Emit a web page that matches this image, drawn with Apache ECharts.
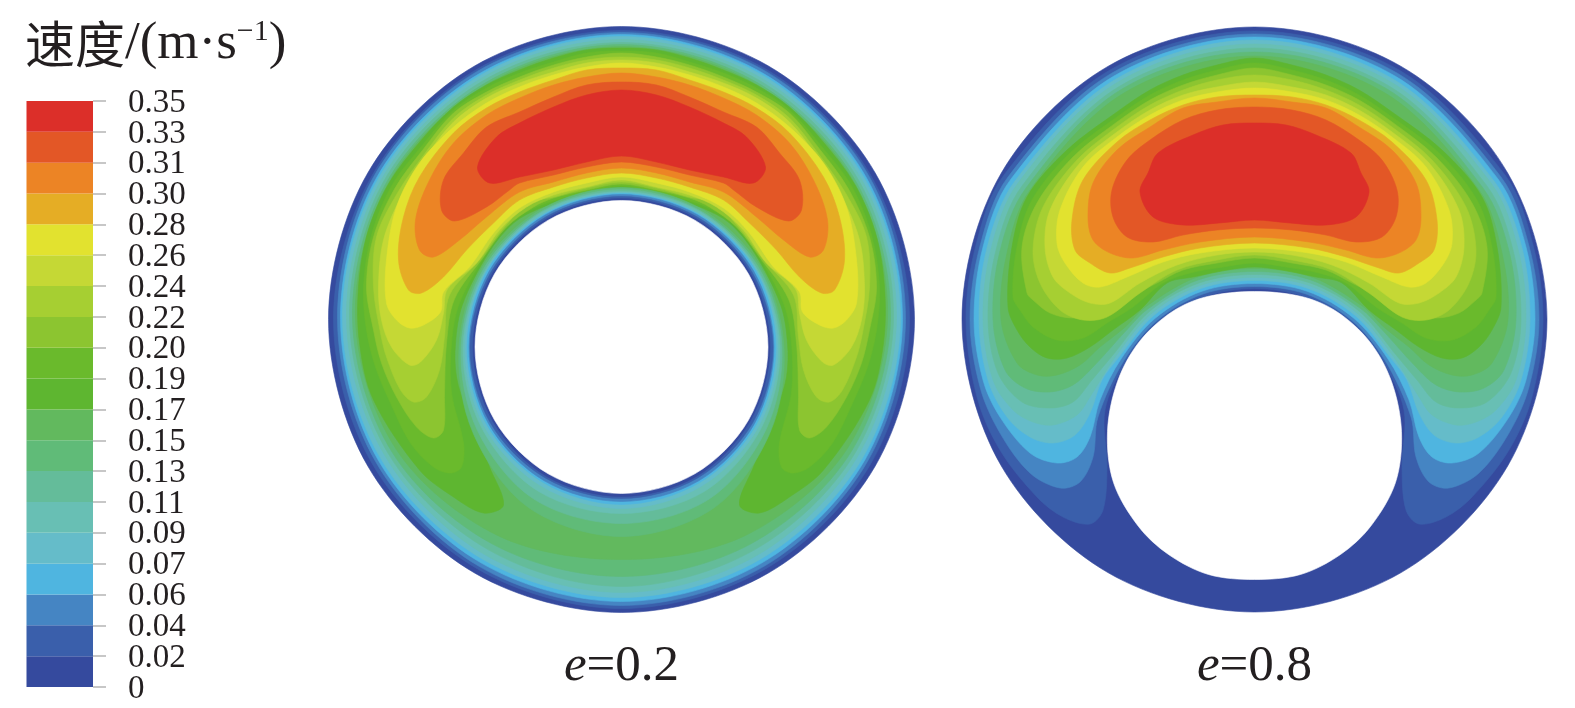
<!DOCTYPE html>
<html><head><meta charset="utf-8">
<style>html,body{margin:0;padding:0;background:#fff}#c{width:1575px;height:708px;filter:blur(.5px)}</style>
<script src="https://cdn.jsdelivr.net/npm/echarts@6/dist/echarts.min.js"></script>
</head><body><div id="c"></div>
<script>
// legend
const tickLabels = ['0','0.02','0.04','0.06','0.07','0.09','0.11','0.13','0.15','0.17','0.19','0.20','0.22','0.24','0.26','0.28','0.30','0.31','0.33','0.35'];
const bandColors = ['#354a9e','#3a5fab','#4585c3','#4fb5e0','#65bcc9','#68bfb4','#64bc9a','#60bb78','#62b95e','#5eb630','#6aba2c','#8cc530','#a6cf32','#c5d835','#e2e22f','#e5ad25','#ec8425','#e35726','#dc2f29'];
const panelNames = ['0.2','0.8'];

// e=0.2: depth of each contour from the walls along rays (deg from top), rows = 0.02 ... 0.15
const rayAngles = [0,30,60,90,120,150,180];
const leftOuterRadius = 293, leftHoleRadius = 146.5, leftHoleCentre = -27.5;
const leftOuterDepth = [
 [4,4,5,5,5,5,4],[6,6,7,9,9,8,7],[8,9,10,12,12,12,11],[10,11,12,14,15,16,15],
 [13,14,15,18,20,21,20],[16,17,18,21,24,27,26],[18,20,21,24,28,34,36],[20,22,23,27,33,44,53]];
const leftInnerDepth = [
 [2,2,2,2,2,3,3],[4,4,4,5,5,5,5],[6,6,6,6,7,8,8],[7,7,8,8,9,10,11],
 [8,8,9,10,12,14,15],[9,10,10,12,15,20,20],[11,11,12,14,20,29,30],[13,13,14,16,25,39,43]];
// e=0.2: contours closed inside the gap, half outlines, rows = 0.17 ... 0.33
const leftLobes = [
 [[0,269],[-33,267],[-66,259],[-100,247],[-133,232],[-166,210],[-198,177],[-231,133],[-252,84],[-261,30],[-260,-26],[-246,-83],[-200,-153],[-166,-180],[-136,-196],[-116,-188],[-130,-150],[-153,-93],[-163,-60],[-164,-26],[-157,12.5],[-131,64],[-106,94],[-79,109],[-59,115],[-33,124],[0,129]],
 [[0,266],[-33,264],[-66,255],[-100,244],[-133,229],[-166,207],[-197,172],[-228,131],[-248,82],[-256,30],[-253,-13],[-244,-50],[-229,-86],[-209,-126],[-186,-150],[-169,-156],[-158,-150],[-156,-126],[-168,-76],[-168,-26],[-160,14],[-133,64],[-110,94],[-83,110],[-63,117],[-33,125],[0,131]],
 [[0,264],[-33,260],[-66,252],[-100,240],[-133,225],[-166,204],[-196,168],[-225,128],[-246,80],[-253,30],[-246,-13],[-238,-46],[-223,-80],[-203,-110],[-186,-121],[-176,-113],[-175,-76],[-173,-26],[-165,18],[-136,60],[-113,90],[-86,110],[-66,119],[-33,127],[0,133]],
 [[0,260],[-33,257],[-66,249],[-100,237],[-133,222],[-166,199],[-195,163],[-222,124],[-243,80],[-246,30],[-239,-16],[-233,-40],[-219,-73],[-206,-85],[-193,-80],[-180,-53],[-175,-20],[-170,22],[-140,57],[-116,89],[-90,114],[-66,120],[-33,129],[0,135]],
 [[0,257],[-33,254],[-66,245],[-100,234],[-133,219],[-166,195],[-195,158],[-218,121],[-236,77],[-241,30],[-238,-3],[-228,-30],[-210,-48],[-199,-45],[-183,-23],[-176,4],[-172,28],[-143,54],[-120,87],[-93,110],[-66,122],[-33,130],[0,137]],
 [[0,254],[-33,250],[-66,242],[-100,230],[-133,214],[-166,190],[-200,154],[-223,110],[-233,57],[-233,14],[-223,-3],[-210,-11],[-196,-8],[-179,5],[-176,25],[-150,50],[-126,84],[-100,109],[-66,125],[-33,134],[0,140]],
 [[0,249],[-33,247],[-66,237],[-100,225],[-133,209],[-166,184],[-200,140],[-216,100],[-221,57],[-211,27],[-198,24],[-176,40],[-153,67],[-126,94],[-100,117],[-66,130],[-33,139],[0,144]],
 [[0,244],[-33,240],[-66,232],[-100,219],[-133,202],[-166,174],[-190,137],[-204,97],[-200,67],[-186,60],[-160,77],[-133,100],[-100,125],[-66,135],[-33,144],[0,149]],
 [[0,235],[-33,232],[-66,220],[-100,205],[-133,190],[-156,164],[-176,137],[-178,107],[-165,96],[-133,110],[-110,127],[-100,134],[-66,142],[-33,150],[0,155]],
 [[0,227],[-33,222],[-66,210],[-100,194],[-123,180],[-142,150],[-130,134],[-100,140],[-66,147],[-33,155],[0,161]]];

// e=0.8: every contour is closed inside the gap, half outlines, rows = 0.02 ... 0.33
const rightOuterRadius = 292.5;
const rightLobes = [
 [[0,286],[-139,247],[-245,142],[-273,72],[-283,-2.5],[-272,-80],[-249,-133],[-212,-180],[-186,-200],[-159,-207],[-146,-193],[-142,-150],[-144,-93],[-122.7,-45],[-89.7,-5.6],[-45,20],[0,28.5]],
 [[0,283],[-137,244],[-241,140],[-269,71],[-279,-2.5],[-269,-70],[-249,-116],[-219,-156],[-189,-171],[-169,-165],[-156,-140],[-151,-100],[-125,-43.5],[-91.6,-3.3],[-46,23],[0,30.5]],
 [[0,280],[-135,241],[-238,138],[-266,70],[-275,-2.5],[-266,-63],[-249,-100],[-219,-136],[-192,-146],[-172,-140],[-159,-120],[-149,-83],[-128,-42],[-93.5,-1],[-47,25.8],[0,33.5]],
 [[0,277],[-133,238],[-234,136],[-262,69],[-270,-2.5],[-261,-63],[-242,-100],[-219,-120],[-196,-126],[-174,-118],[-159,-96],[-147,-63],[-130.5,-40.5],[-95.5,1.3],[-48,28.6],[0,36.5]],
 [[0,273],[-131,235],[-231,134],[-258,68],[-266,-2.5],[-256,-63],[-236,-93],[-216,-105],[-196,-108],[-172,-98],[-159,-80],[-133,-39],[-97.4,3.6],[-49,31.5],[0,39.5]],
 [[0,269],[-129,231],[-227,131],[-253,67],[-261,-2.5],[-251,-56],[-227,-85],[-199,-91],[-176,-85],[-157,-63],[-135.7,-37.5],[-99,6],[-50,34],[0,42.5]],
 [[0,265],[-127,228],[-223,129],[-249,66],[-256,-2.5],[-244,-53],[-224,-71],[-199,-75],[-176,-68],[-156,-50],[-121.7,-12.3],[-101,8.2],[-51,37],[0,45.5]],
 [[0,261],[-125,224],[-219,127],[-242,64],[-248,-2.5],[-232,-46],[-212,-58],[-192,-58],[-169,-48],[-149,-30],[-124,-10.3],[-103,10.5],[-52,39.8],[0,48.5]],
 [[0,259],[-32,252],[-66,242],[-99,227],[-132,205],[-182,167],[-222,120],[-237,70],[-241,10],[-232,-13],[-219,-30],[-202,-41],[-182,-41],[-159,-30],[-136,-13],[-109,7],[-82,34],[-56,40],[-22,47],[0,50]],
 [[0,254],[-32,247],[-66,237],[-99,222],[-132,200],[-179,164],[-217,117],[-232,70],[-236,20],[-229,7],[-216,-10],[-192,-23],[-166,-21],[-142,-6],[-116,10],[-86,34],[-59,44],[-26,50],[0,54]],
 [[0,249],[-32,242],[-66,232],[-99,217],[-132,195],[-176,160],[-212,114],[-227,70],[-222,24],[-216,17],[-199,4],[-176,-1],[-152,4],[-126,17],[-92,34],[-66,47],[-32,54],[0,59]],
 [[0,242],[-32,237],[-66,227],[-99,212],[-132,190],[-172,157],[-206,110],[-216,67],[-209,34],[-189,7],[-166,-3],[-142,0],[-109,24],[-72,47],[-32,57],[0,62]],
 [[0,235],[-32,230],[-66,222],[-99,207],[-132,185],[-169,154],[-199,107],[-204,70],[-196,40],[-179,24],[-159,14],[-139,14],[-109,34],[-72,52],[-32,62],[0,65]],
 [[0,229],[-32,225],[-66,217],[-99,202],[-132,180],[-166,150],[-189,107],[-192,74],[-184,54],[-166,34],[-149,30],[-122,40],[-86,55],[-49,64],[0,69]],
 [[0,222],[-32,220],[-66,212],[-99,197],[-132,175],[-166,137],[-177,97],[-174,67],[-159,54],[-139,44],[-119,49],[-86,60],[-49,69],[0,74]],
 [[0,219],[-32,215],[-66,209],[-99,190],[-132,167],[-156,134],[-161,100],[-156,77],[-139,64],[-116,59],[-86,67],[-49,75],[0,80]],
 [[0,210],[-32,207],[-66,197],[-99,177],[-122,157],[-137,127],[-136,100],[-122,80],[-96,75],[-66,82],[-32,87],[0,89]],
 [[0,194],[-26,192],[-56,182],[-91,164],[-101,144],[-109,125],[-96,100],[-66,92],[-30,94],[0,97]]];
const rightHole = [[0,28],[-47,23],[-82,8],[-115,-22],[-137,-62],[-147,-112],[-141,-163],[-116,-207],[-86,-235],[-46,-255],[0,-260]];
// the half outlines were read against a reference mark slightly off each circle's own centre
const leftReadOffset = [-2,2.5], rightReadOffset = [-5.5,2.5];

function mirror(half){
  const back = half.filter(p=>p[0]!==0).reverse().map(p=>[-p[0],p[1]]);
  return half.concat(back);
}
function lobe(half,off){
  return mirror(half.map(p=>[p[0]===0?0:p[0]+off[0],p[1]+off[1]]));
}
function ring(radius, cy, depth, sign){
  return mirror(rayAngles.map((a,i)=>{
    const r = radius + sign*depth[i], t = a*Math.PI/180;
    const s = (a===0||a===180)?0:Math.sin(t);
    return [-r*s, cy + r*Math.cos(t)];
  }));
}
const zero = rayAngles.map(()=>0);
const leftShapes = [{pts:ring(leftOuterRadius,0,zero,-1),c:bandColors[0]}];
leftOuterDepth.forEach((d,i)=>leftShapes.push({pts:ring(leftOuterRadius,0,d,-1),c:bandColors[i+1]}));
leftLobes.forEach((h,i)=>leftShapes.push({pts:lobe(h,leftReadOffset),c:bandColors[i+9]}));
for(let i=leftInnerDepth.length-1;i>=0;i--) leftShapes.push({pts:ring(leftHoleRadius,leftHoleCentre,leftInnerDepth[i],1),c:bandColors[i]});
leftShapes.push({pts:ring(leftHoleRadius,leftHoleCentre,zero,1),c:'#ffffff'});

const rightShapes = [{pts:ring(rightOuterRadius,0,zero,-1),c:bandColors[0]}];
rightLobes.forEach((h,i)=>rightShapes.push({pts:lobe(h,rightReadOffset),c:bandColors[i+1]}));
rightShapes.push({pts:mirror(rightHole),c:'#ffffff'});

function contourSeries(shapes, axisIndex){
  return {
    type:'custom', xAxisIndex:axisIndex, yAxisIndex:axisIndex, clip:false, silent:true,
    data:shapes.map((s,i)=>[i]), encode:{x:0,y:0},
    renderItem:(params,api)=>{
      const s = shapes[params.dataIndex];
      return {type:'polygon',shape:{points:s.pts.map(p=>api.coord(p)),smooth:0.33},
        style:{fill:s.c,stroke:s.c,lineWidth:0.6}};
    }
  };
}
const serif = '"Liberation Serif","Times New Roman",serif';
function panelAxis(gridIndex,name){
  return {type:'value',gridIndex,min:-300,max:300,show:true,splitLine:{show:false},axisLine:{show:false},axisTick:{show:false},axisLabel:{show:false},
    name:'{i|e}{n|='+name+'}',nameLocation:'middle',nameGap:47,
    nameTextStyle:{verticalAlign:'middle',rich:{i:{fontFamily:serif,fontStyle:'italic',fontSize:51,color:'#231f20'},n:{fontFamily:serif,fontSize:51,color:'#231f20'}}}};
}
function panelY(gridIndex){
  return {type:'value',gridIndex,min:-300,max:300,splitLine:{show:false},axisLine:{show:false},axisTick:{show:false},axisLabel:{show:false}};
}
const legendRich = {a:{fontFamily:serif,fontSize:33,color:'#231f20',lineHeight:24,height:24,padding:[4,0,0,0]}};
const legendTick = {show:true,length:13,lineStyle:{color:'#b5b5b5',width:1.5}};
const lastTick = tickLabels.length-1;
const legendSeries = bandColors.map(c=>({type:'bar',stack:'legend',xAxisIndex:2,yAxisIndex:2,barWidth:'100%',silent:true,data:[1],itemStyle:{color:c}}));

const chart = echarts.init(document.getElementById('c'),null,{renderer:'canvas'});
chart.setOption({
  animation:false,
  backgroundColor:'#fff',
  title:{left:25,top:17,padding:0,
    text:'{c|速度}{r|/(m·s}{s|−1}{r|)}',
    textStyle:{fontWeight:'normal',rich:{
      c:{fontFamily:'"Noto Sans CJK SC"',fontWeight:'normal',fontSize:50,color:'#231f20'},
      r:{fontFamily:serif,fontWeight:'normal',fontSize:53,color:'#231f20'},
      s:{fontFamily:serif,fontWeight:'normal',fontSize:30,color:'#231f20',padding:[0,0,24,0]}}}},
  grid:[
    {left:321.5,top:19.5,width:600,height:600,outerBoundsMode:'none'},
    {left:954.5,top:19.5,width:600,height:600,outerBoundsMode:'none'},
    {left:26.5,top:101,width:66.5,height:586,outerBoundsMode:'none'}],
  xAxis:[panelAxis(0,panelNames[0]),panelAxis(1,panelNames[1]),
    {type:'category',gridIndex:2,data:[''],axisLine:{show:false},axisTick:{show:false},axisLabel:{show:false}}],
  yAxis:[panelY(0),panelY(1),
    {type:'value',gridIndex:2,position:'right',offset:0,min:0,max:lastTick,interval:1,splitLine:{show:false},axisLine:{show:false},
     axisTick:legendTick,
     axisLabel:{margin:35,showMinLabel:false,showMaxLabel:false,hideOverlap:false,rich:legendRich,
       formatter:v=>'{a|'+tickLabels[v]+'}'}},
    {type:'value',gridIndex:2,position:'right',offset:0,min:0,max:lastTick,interval:lastTick,splitLine:{show:false},axisLine:{show:false},axisTick:legendTick,
     axisLabel:{margin:35,showMinLabel:true,showMaxLabel:true,rich:legendRich,
       formatter:v=>'{a|'+tickLabels[v]+'}'}}],
  series:[contourSeries(leftShapes,0),contourSeries(rightShapes,1)].concat(legendSeries)
});
</script></body></html>
